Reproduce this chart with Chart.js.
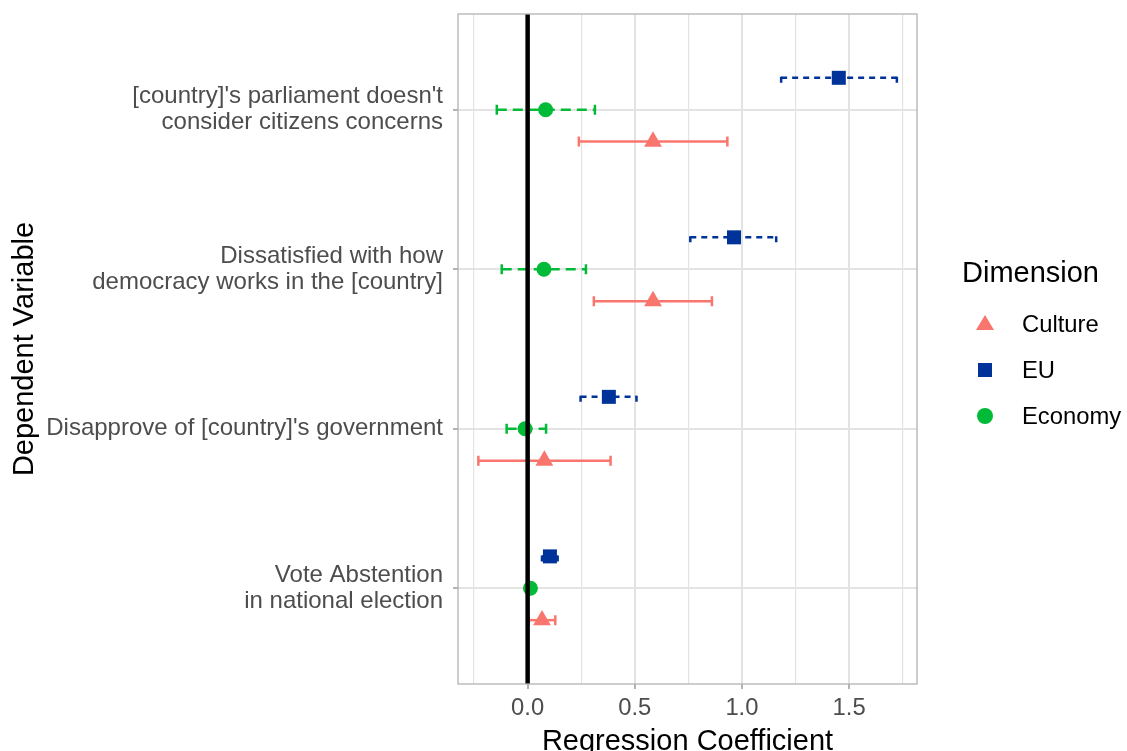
<!DOCTYPE html>
<html>
<head>
<meta charset="utf-8">
<script src="https://cdn.jsdelivr.net/npm/chart.js@4.4.1/dist/chart.umd.min.js"></script>
<style>
  html, body { margin: 0; padding: 0; background: #fff; }
  #wrap { position: relative; width: 1127px; height: 751px; font-family: "Liberation Sans", Arial, sans-serif; }
  #legend { position: absolute; left: 962px; top: 252px; }
  #legend .title { font-size: 29px; color: #000; line-height: 40px; }
  #legend .item { position: absolute; left: 0; height: 30px; width: 170px; }
  #legend .mark { position: absolute; }
  #legend .lab { position: absolute; left: 60px; top: 0; font-size: 23.8px; line-height: 30px; color: #000; white-space: nowrap; }
</style>
</head>
<body>
<div id="wrap">
  <canvas id="chart" width="1127" height="751"></canvas>
  <div id="legend"></div>
</div>
<script>
// categories, bottom to top (y = 1..4)
const categories = [
  ["Vote Abstention", "in national election"],
  ["Disapprove of [country]'s government"],
  ["Dissatisfied with how", "democracy works in the [country]"],
  ["[country]'s parliament doesn't", "consider citizens concerns"]
];
const categoryPos = [1, 2, 3, 4];

// estimates and confidence bounds per dimension
const cultureEst = [0.067, 0.078, 0.585, 0.585];
const cultureLo  = [0.005, -0.230, 0.309, 0.239];
const cultureHi  = [0.129, 0.387, 0.860, 0.932];

const euEst = [0.104, 0.379, 0.963, 1.452];
const euLo  = [0.067, 0.247, 0.759, 1.183];
const euHi  = [0.140, 0.508, 1.160, 1.723];

const econEst = [0.013, -0.012, 0.076, 0.084];
const econLo  = [-0.005, -0.098, -0.121, -0.144];
const econHi  = [0.030, 0.086, 0.272, 0.314];

const dimensions = ["Culture", "EU", "Economy"];
const xTickLabels = ["0.0", "0.5", "1.0", "1.5"];

const COL_CULTURE = "#F8766D";
const COL_EU = "#00339A";
const COL_ECON = "#00BA38";

function makePoints(est, lo, hi, shift) {
  return est.map((v, i) => ({ x: v, y: categoryPos[i] + shift, lo: lo[i], hi: hi[i] }));
}

const errorBars = {
  id: "errorBars",
  beforeDatasetsDraw(chart) {
    const { ctx, scales: { x, y } } = chart;
    ctx.save();
    ctx.beginPath();
    ctx.rect(chart.chartArea.left, chart.chartArea.top, chart.chartArea.right - chart.chartArea.left, chart.chartArea.bottom - chart.chartArea.top);
    ctx.clip();
    chart.data.datasets.forEach((ds) => {
      ctx.strokeStyle = ds.backgroundColor;
      ctx.lineWidth = 2.5;
      ctx.setLineDash(ds.errDash || []);
      ds.data.forEach((p) => {
        const x0 = x.getPixelForValue(p.lo);
        const x1 = x.getPixelForValue(p.hi);
        const py = y.getPixelForValue(p.y);
        ctx.beginPath();
        ctx.moveTo(x0, py);
        ctx.lineTo(x1, py);
        ctx.stroke();
        ctx.beginPath();
        ctx.moveTo(x0, py + 5);
        ctx.lineTo(x0, py - 5);
        ctx.moveTo(x1, py + 5);
        ctx.lineTo(x1, py - 5);
        ctx.stroke();
      });
    });
    ctx.restore();
  },
  afterDatasetsDraw(chart) {
    const { ctx, chartArea: a, scales: { x } } = chart;
    ctx.save();
    const zx = x.getPixelForValue(0);
    ctx.strokeStyle = "#000";
    ctx.lineWidth = 4.5;
    ctx.beginPath();
    ctx.moveTo(zx, a.top);
    ctx.lineTo(zx, a.bottom);
    ctx.stroke();
    ctx.strokeStyle = "#b3b3b3";
    ctx.lineWidth = 1.3;
    ctx.strokeRect(a.left, a.top, a.right - a.left, a.bottom - a.top);
    ctx.restore();
  }
};

Chart.defaults.font.family = '"Liberation Sans", Arial, sans-serif';

const isMajor = (v) => Math.abs(v * 2 - Math.round(v * 2)) < 1e-6;

new Chart(document.getElementById("chart"), {
  type: "scatter",
  data: {
    datasets: [
      {
        label: dimensions[0],
        data: makePoints(cultureEst, cultureLo, cultureHi, -0.2),
        backgroundColor: COL_CULTURE,
        pointStyle: "triangle",
        pointRadius: 10.3,
        borderWidth: 0,
        errDash: []
      },
      {
        label: dimensions[1],
        data: makePoints(euEst, euLo, euHi, 0.2),
        backgroundColor: COL_EU,
        pointStyle: "rect",
        pointRadius: 9.9,
        borderWidth: 0,
        errDash: [6, 5]
      },
      {
        label: dimensions[2],
        data: makePoints(econEst, econLo, econHi, 0),
        backgroundColor: COL_ECON,
        pointStyle: "circle",
        pointRadius: 7.5,
        borderWidth: 0,
        errDash: [10, 6]
      }
    ]
  },
  options: {
    responsive: false,
    animation: false,
    devicePixelRatio: 1,
    layout: { padding: { left: 0, right: 210, top: 14, bottom: 0 } },
    plugins: { legend: { display: false }, tooltip: { enabled: false } },
    scales: {
      x: {
        type: "linear",
        min: -0.325,
        max: 1.817,
        afterFit(scale) {
          scale.height = 67;
          scale.paddingLeft = 0;
          scale.paddingRight = 0;
        },
        border: { display: false },
        grid: {
          color: "#e3e3e3",
          lineWidth: (c) => (c.tick && isMajor(c.tick.value) ? 2 : 1.2),
          tickColor: (c) => (c.tick && isMajor(c.tick.value) ? "#b3b3b3" : "rgba(0,0,0,0)"),
          tickLength: 5
        },
        ticks: {
          stepSize: 0.25,
          includeBounds: false,
          autoSkip: false,
          maxRotation: 0,
          padding: 5,
          color: "#4d4d4d",
          font: { size: 23.8 },
          callback: (v) => (isMajor(v) ? xTickLabels[Math.round(v * 2)] ?? "" : "")
        },
        title: {
          display: true,
          text: "Regression Coefficient",
          color: "#000",
          font: { size: 29, lineHeight: 0.62 },
          padding: 0
        }
      },
      y: {
        type: "linear",
        min: 0.4,
        max: 4.6,
        afterFit(scale) {
          scale.width = 458;
          scale.paddingTop = 0;
          scale.paddingBottom = 0;
        },
        afterBuildTicks(scale) { scale.ticks = categoryPos.map((v) => ({ value: v })); },
        border: { display: false },
        grid: { color: "#e3e3e3", lineWidth: 2, tickColor: "#b3b3b3", tickLength: 5 },
        ticks: {
          padding: 10,
          color: "#4d4d4d",
          font: { size: 24, lineHeight: 1.08 },
          callback: (v) => categories[categoryPos.indexOf(v)] || ""
        },
        title: {
          display: true,
          text: "Dependent Variable",
          color: "#000",
          font: { size: 29 },
          padding: { top: 8, bottom: 0 }
        }
      }
    }
  },
  plugins: [errorBars]
});

// legend
const legendMarks = [
  { css: "left:14px;top:6px;width:18px;height:15px;background:" + COL_CULTURE + ";clip-path:polygon(50% 0,100% 100%,0 100%);" },
  { css: "left:16px;top:8px;width:14px;height:14px;background:" + COL_EU + ";" },
  { css: "left:15px;top:7px;width:16px;height:16px;border-radius:50%;background:" + COL_ECON + ";" }
];
const legend = document.getElementById("legend");
const t = document.createElement("div");
t.className = "title";
t.textContent = "Dimension";
legend.appendChild(t);
dimensions.forEach((d, i) => {
  const it = document.createElement("div");
  it.className = "item";
  it.style.top = (57 + i * 46) + "px";
  const m = document.createElement("div");
  m.className = "mark";
  m.style.cssText = legendMarks[i].css;
  const l = document.createElement("div");
  l.className = "lab";
  l.textContent = d;
  it.appendChild(m);
  it.appendChild(l);
  legend.appendChild(it);
});
</script>
</body>
</html>
